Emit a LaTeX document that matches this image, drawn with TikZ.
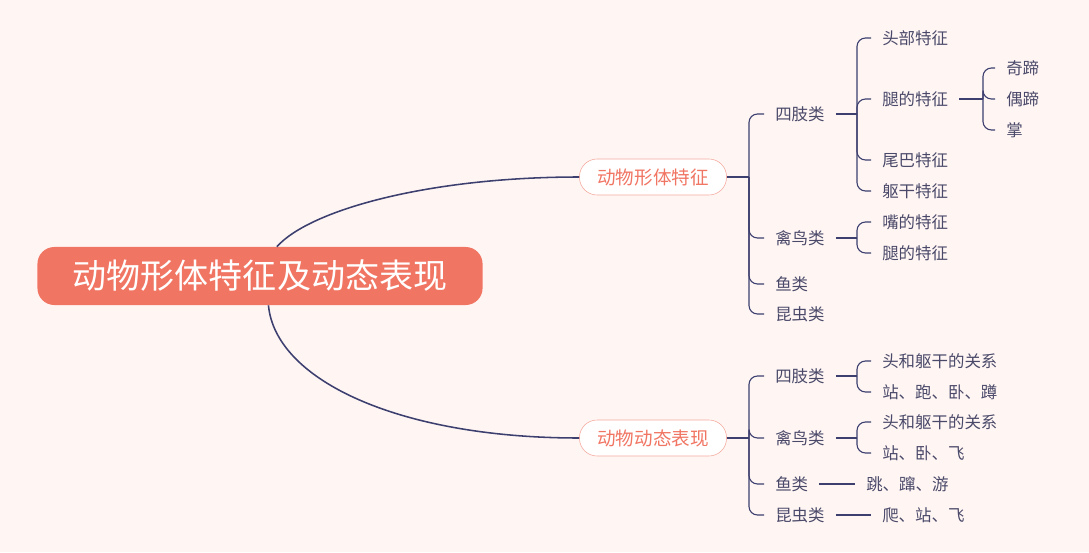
\documentclass[tikz,border=0pt]{standalone}
\usepackage{fontspec}
\setmainfont{Noto Sans CJK SC}
\usepackage{tikz}
\usetikzlibrary{positioning,calc}
\definecolor{bgpink}{HTML}{FFF6F4}
\definecolor{salmon}{HTML}{F17563}
\definecolor{salmonline}{HTML}{F5A99D}
\definecolor{navy}{HTML}{3D3F6F}
\definecolor{ink}{HTML}{4A4969}

\begin{document}
\begin{tikzpicture}[
    x=0.025cm, y=-0.025cm,
    rootbox/.style={fill=salmon, text=white, rounded corners=12pt, minimum width=11.125cm, minimum height=1.45cm, font=\fontsize{24.2}{28}\selectfont},
    topic/.style={draw=salmonline, fill=white, text=salmon, rounded corners=12.5pt, minimum width=3.675cm, minimum height=0.9cm, font=\fontsize{13.2}{16}\selectfont},
    leaf/.style={anchor=west, text=ink, inner xsep=7.8pt, inner ysep=1pt, font=\fontsize{11.7}{14}\selectfont},
    link/.style={draw=navy, line width=0.8pt},
    branch/.style={link, rounded corners=6pt},
    trunk/.style={draw=navy, line width=1.1pt}
  ]
  % background
  \path[fill=bgpink] (0,0) rectangle (1089,552);
  % root and main topics
  \node[rootbox] (root) at (260,276) {动物形体特征及动态表现};
  \node[topic] (shape) at (653,177) {动物形体特征};
  \node[topic] (motion) at (653,438) {动物动态表现};
  \draw[trunk] ([xshift=12pt]root.north) .. controls +(33,-37) and +(-150,0) .. (shape.west);
  \draw[trunk] ([xshift=6pt]root.south) .. controls +(7,75) and +(-180,0) .. (motion.west);
  % shape branch
  \coordinate (jShape) at (749,177);
  \node[leaf] (shLimb) at (764,114) {四肢类};
  \node[leaf] (shBird) at (764,238) {禽鸟类};
  \node[leaf] (shFish) at (764,284) {鱼类};
  \node[leaf] (shInsect) at (764,314) {昆虫类};
  \draw[link] (shape.east) -- (jShape);
  \foreach \n in {shLimb,shBird,shFish,shInsect}
    \draw[branch] (jShape) |- (\n.west);
  % limbs
  \coordinate (jLimb) at (857,114);
  \node[leaf] (head) at (871,38) {头部特征};
  \node[leaf] (leg) at (871,99) {腿的特征};
  \node[leaf] (tail) at (871,160) {尾巴特征};
  \node[leaf] (trunkf) at (871,191) {躯干特征};
  \draw[link] (shLimb.east) -- (jLimb);
  \foreach \n in {head,leg,tail,trunkf}
    \draw[branch] (jLimb) |- (\n.west);
  % legs
  \coordinate (jLeg) at (983,99);
  \node[leaf] (odd) at (995,68) {奇蹄};
  \node[leaf] (even) at (995,99) {偶蹄};
  \node[leaf] (paw) at (995,130) {掌};
  \draw[link] (leg.east) -- (jLeg);
  \foreach \n in {odd,even,paw}
    \draw[branch] (jLeg) |- (\n.west);
  % birds
  \coordinate (jBird) at (857,238);
  \node[leaf] (beak) at (871,222) {嘴的特征};
  \node[leaf] (bleg) at (871,253) {腿的特征};
  \draw[link] (shBird.east) -- (jBird);
  \foreach \n in {beak,bleg}
    \draw[branch] (jBird) |- (\n.west);
  % motion branch
  \coordinate (jMotion) at (749,438);
  \node[leaf] (moLimb) at (764,376) {四肢类};
  \node[leaf] (moBird) at (764,438) {禽鸟类};
  \node[leaf] (moFish) at (764,484) {鱼类};
  \node[leaf] (moInsect) at (764,515) {昆虫类};
  \draw[link] (motion.east) -- (jMotion);
  \foreach \n in {moLimb,moBird,moFish,moInsect}
    \draw[branch] (jMotion) |- (\n.west);
  % motion leaves
  \coordinate (jmLimb) at (857,376);
  \node[leaf] (mlRel) at (871,361) {头和躯干的关系};
  \node[leaf] (mlAct) at (871,392) {站、跑、卧、蹲};
  \draw[link] (moLimb.east) -- (jmLimb);
  \foreach \n in {mlRel,mlAct}
    \draw[branch] (jmLimb) |- (\n.west);
  \coordinate (jmBird) at (857,438);
  \node[leaf] (mbRel) at (871,422) {头和躯干的关系};
  \node[leaf] (mbAct) at (871,453) {站、卧、飞};
  \draw[link] (moBird.east) -- (jmBird);
  \foreach \n in {mbRel,mbAct}
    \draw[branch] (jmBird) |- (\n.west);
  \node[leaf] (mfAct) at (855,484) {跳、蹿、游};
  \node[leaf] (miAct) at (871,515) {爬、站、飞};
  \draw[link] (moFish.east) -- (mfAct.west);
  \draw[link] (moInsect.east) -- (miAct.west);
\end{tikzpicture}
\end{document}
